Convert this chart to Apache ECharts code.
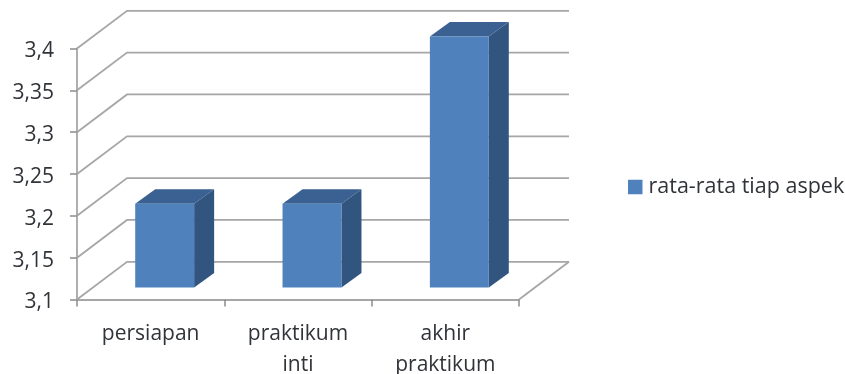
<!DOCTYPE html>
<html>
<head>
<meta charset="utf-8">
<style>html,body{margin:0;padding:0;background:#fff}#chart{width:845px;height:374px}</style>
<script src="https://cdn.jsdelivr.net/npm/echarts@6/dist/echarts.min.js"></script>
</head>
<body>
<div id="chart"></div>
<script>
const categories = ['persiapan', 'praktikum\ninti', 'akhir\npraktikum'];
const values = [3.2, 3.2, 3.4];
const valueTicks = [3.1, 3.15, 3.2, 3.25, 3.3, 3.35, 3.4];
const seriesName = 'rata-rata tiap aspek';

const FONT = '"Open Sans", "Noto Sans", sans-serif';
const FONT_SIZE = 21;
const TEXT = '#303338';
const GRID = '#a6a6a6';
const WALL_DX = 50, WALL_DY = 37.7;   // oblique offset from front plane to back wall
const BAR_SHIFT_X = 14, BAR_SHIFT_Y = 12; // how far bars stand behind the front edge
const BAR_DX = 20, BAR_DY = 14.5;     // depth of each bar
const lineStyle = {stroke: GRID, lineWidth: 1.8, fill: null};

function renderWall(params, api) {
  const cs = params.coordSys;
  const y = api.coord([0, api.value(1)])[1];
  const left = cs.x, right = cs.x + cs.width;
  const children = [{
    type: 'polyline',
    shape: {points: [[left, y], [left + WALL_DX, y - WALL_DY], [right + WALL_DX, y - WALL_DY]]},
    style: lineStyle
  }];
  if (params.dataIndex === 0) {
    children.push({
      type: 'line',
      shape: {x1: right, y1: y, x2: right + WALL_DX, y2: y - WALL_DY},
      style: lineStyle
    });
  }
  return {type: 'group', children};
}

function renderBar(params, api) {
  const top = api.coord([api.value(0), api.value(1)]);
  const base = api.coord([api.value(0), valueTicks[0]]);
  const w = api.size([1, 0])[0] * 0.4;
  const x0 = top[0] + BAR_SHIFT_X - w / 2, x1 = x0 + w;
  const yT = top[1] - BAR_SHIFT_Y, yB = base[1] - BAR_SHIFT_Y;
  return {
    type: 'group',
    children: [
      {type: 'polygon', shape: {points: [[x1, yT], [x1 + BAR_DX, yT - BAR_DY], [x1 + BAR_DX, yB - BAR_DY], [x1, yB]]}, style: {fill: '#31557f'}},
      {type: 'polygon', shape: {points: [[x0, yT], [x0 + BAR_DX, yT - BAR_DY], [x1 + BAR_DX, yT - BAR_DY], [x1, yT]]}, style: {fill: '#3a6191'}},
      {type: 'rect', shape: {x: x0, y: yT, width: w, height: yB - yT}, style: {fill: '#4f81bd'}}
    ]
  };
}

const chart = echarts.init(document.getElementById('chart'), null, {renderer: 'canvas'});
chart.setOption({
  animation: false,
  backgroundColor: '#fff',
  grid: {left: 77, right: 326, top: 48.5, bottom: 74.5, outerBoundsMode: 'none'},
  legend: {
    data: [seriesName],
    left: 628,
    top: 176,
    padding: 0,
    icon: 'rect',
    itemWidth: 14.5,
    itemHeight: 14.5,
    itemGap: 0,
    textStyle: {fontFamily: FONT, fontSize: 21.5, color: TEXT, padding: [0, 0, 0, 1]}
  },
  xAxis: {
    type: 'category',
    data: categories,
    axisLine: {lineStyle: {color: GRID, width: 1.8}},
    axisTick: {show: true, length: 7, lineStyle: {color: '#8c8c8c', width: 1.5}},
    axisLabel: {interval: 0, margin: 19, fontFamily: FONT, fontSize: FONT_SIZE, lineHeight: 31, color: TEXT},
    splitLine: {show: false}
  },
  yAxis: {
    type: 'value',
    min: 3.1,
    max: 3.4,
    interval: 0.05,
    axisLine: {show: true, lineStyle: {color: GRID, width: 1.8}},
    axisTick: {show: true, length: 7, lineStyle: {color: '#8c8c8c', width: 1.5}},
    axisLabel: {
      margin: 23,
      verticalAlign: 'top',
      lineHeight: 6,
      fontFamily: FONT,
      fontSize: FONT_SIZE,
      color: TEXT,
      formatter: v => String(Number(v.toFixed(2))).replace('.', ',')
    },
    splitLine: {show: false}
  },
  series: [
    {
      type: 'custom',
      name: 'walls',
      silent: true,
      z: 1,
      renderItem: renderWall,
      encode: {x: 0, y: 1},
      data: valueTicks.map(v => [0, v])
    },
    {
      type: 'custom',
      name: seriesName,
      z: 2,
      itemStyle: {color: '#4f81bd'},
      renderItem: renderBar,
      encode: {x: 0, y: 1},
      data: values.map((v, i) => [i, v])
    }
  ]
});
</script>
</body>
</html>
